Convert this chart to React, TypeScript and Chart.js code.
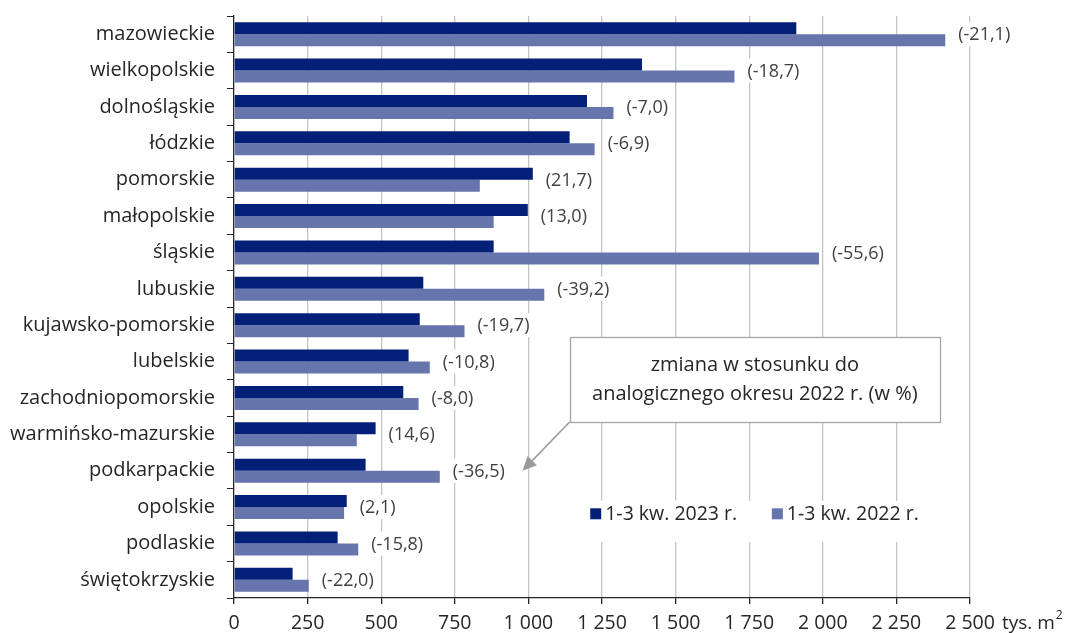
import { useEffect, useRef } from 'react';
import { Chart, registerables } from 'chart.js';

Chart.register(...registerables);

// Województwa, usable floor area of completed buildings (tys. m²)
const regions = [
  'mazowieckie',
  'wielkopolskie',
  'dolnośląskie',
  'łódzkie',
  'pomorskie',
  'małopolskie',
  'śląskie',
  'lubuskie',
  'kujawsko-pomorskie',
  'lubelskie',
  'zachodniopomorskie',
  'warmińsko-mazurskie',
  'podkarpackie',
  'opolskie',
  'podlaskie',
  'świętokrzyskie',
];

const area2023 = [1910, 1386, 1199, 1140, 1015, 998, 882, 643, 631, 593, 575, 481, 447, 383, 352, 199];
const area2022 = [2416, 1700, 1289, 1225, 835, 882, 1987, 1054, 783, 665, 627, 417, 699, 374, 422, 254];

// Change vs. the same period of 2022, in %
const changePct = [-21.1, -18.7, -7.0, -6.9, 21.7, 13.0, -55.6, -39.2, -19.7, -10.8, -8.0, 14.6, -36.5, 2.1, -15.8, -22.0];

const seriesLabels = ['1-3 kw. 2023 r.', '1-3 kw. 2022 r.'];
const axisMax = 2500;
const axisStep = 250;
const noteLines = ['zmiana w stosunku do', 'analogicznego okresu 2022 r. (w %)'];

const DARK = '#041f78';
const LIGHT = '#6676ad';
const FONT = '"Open Sans", "Noto Sans", sans-serif';
const TEXT = '#262626';

const fmtThousands = (v: number) => String(v).replace(/\B(?=(\d{3})+(?!\d))/g, ' ');
const fmtPct = (v: number) => '(' + v.toFixed(1).replace('.', ',') + ')';

const overlayPlugin = {
  id: 'overlay',
  afterDraw(chart: any) {
    const { ctx, chartArea } = chart;
    const xs = chart.scales.x;
    const ys = chart.scales.y;
    ctx.save();

    // Percentage change labels beside the longer bar of each region
    ctx.font = `18px ${FONT}`;
    ctx.textBaseline = 'middle';
    ctx.textAlign = 'left';
    regions.forEach((_, i) => {
      const end = Math.max(xs.getPixelForValue(area2023[i]), xs.getPixelForValue(area2022[i]));
      const x = end + 13;
      const y = ys.getPixelForValue(i);
      const txt = fmtPct(changePct[i]);
      const w = ctx.measureText(txt).width;
      ctx.fillStyle = '#ffffff';
      ctx.fillRect(x - 2, y - 12, w + 4, 24);
      ctx.fillStyle = '#404040';
      ctx.fillText(txt, x, y + 1);
    });

    // Unit label after the last x tick
    ctx.font = `19px ${FONT}`;
    ctx.fillStyle = TEXT;
    ctx.textAlign = 'left';
    ctx.textBaseline = 'middle';
    const unitX = xs.getPixelForValue(axisMax) + 32;
    const unitY = chartArea.bottom + 26;
    ctx.fillText('tys. m', unitX, unitY);
    const mW = ctx.measureText('tys. m').width;
    ctx.font = `12px ${FONT}`;
    ctx.fillText('2', unitX + mW + 1, unitY - 8);

    // Legend inside the plot
    const lgLeft = xs.getPixelForValue(1190);
    const lgRight = xs.getPixelForValue(2350);
    const lgTop = chartArea.top + (chartArea.bottom - chartArea.top) * 0.833;
    const lgH = 41;
    ctx.fillStyle = '#ffffff';
    ctx.fillRect(lgLeft, lgTop, lgRight - lgLeft, lgH);
    ctx.font = `19.5px ${FONT}`;
    ctx.textBaseline = 'middle';
    const lgY = lgTop + lgH / 2 - 8;
    const items = [
      { color: DARK, text: seriesLabels[0], x: xs.getPixelForValue(1210) },
      { color: LIGHT, text: seriesLabels[1], x: xs.getPixelForValue(1827) },
    ];
    items.forEach((it) => {
      ctx.fillStyle = it.color;
      ctx.fillRect(it.x, lgY - 5, 11, 11);
      ctx.fillStyle = TEXT;
      ctx.fillText(it.text, it.x + 15, lgY + 1);
    });

    // Note box with an arrow pointing to a change label
    const bx = xs.getPixelForValue(1140);
    const bx2 = xs.getPixelForValue(2398);
    const by = ys.getPixelForValue(8.32);
    const by2 = ys.getPixelForValue(10.66);
    ctx.fillStyle = '#ffffff';
    ctx.fillRect(bx, by, bx2 - bx, by2 - by);
    ctx.strokeStyle = '#a6a6a6';
    ctx.lineWidth = 1.3;
    ctx.strokeRect(Math.round(bx) + 0.5, Math.round(by) + 0.5, Math.round(bx2 - bx), Math.round(by2 - by));
    ctx.fillStyle = TEXT;
    ctx.textAlign = 'center';
    ctx.font = `20px ${FONT}`;
    const cx = (bx + bx2) / 2;
    ctx.fillText(noteLines[0], cx, by + 28);
    ctx.fillText(noteLines[1], cx, by + 57);

    // Arrow
    const tipX = xs.getPixelForValue(980);
    const tipY = ys.getPixelForValue(12.0);
    const sx = bx;
    const sy = by2;
    const ang = Math.atan2(tipY - sy, tipX - sx);
    const headLen = 14;
    const headW = 6.5;
    const baseX = tipX - headLen * Math.cos(ang);
    const baseY = tipY - headLen * Math.sin(ang);
    ctx.strokeStyle = '#9a9a9a';
    ctx.lineWidth = 1.5;
    ctx.beginPath();
    ctx.moveTo(sx, sy);
    ctx.lineTo(baseX, baseY);
    ctx.stroke();
    ctx.fillStyle = '#9a9a9a';
    ctx.beginPath();
    ctx.moveTo(tipX, tipY);
    ctx.lineTo(baseX + headW * Math.sin(ang), baseY - headW * Math.cos(ang));
    ctx.lineTo(baseX - headW * Math.sin(ang), baseY + headW * Math.cos(ang));
    ctx.closePath();
    ctx.fill();

    ctx.restore();
  },
};

export default function App() {
  const canvasRef = useRef<HTMLCanvasElement | null>(null);

  useEffect(() => {
    const canvas = canvasRef.current;
    if (!canvas) return;
    const chart = new Chart(canvas, {
      type: 'bar',
      data: {
        labels: regions,
        datasets: [
          {
            label: seriesLabels[0],
            data: area2023,
            backgroundColor: DARK,
            borderWidth: 0,
            categoryPercentage: 0.66,
            barPercentage: 1.0,
          },
          {
            label: seriesLabels[1],
            data: area2022,
            backgroundColor: LIGHT,
            borderWidth: 0,
            categoryPercentage: 0.66,
            barPercentage: 1.0,
          },
        ],
      },
      options: {
        indexAxis: 'y',
        responsive: false,
        animation: false,
        devicePixelRatio: 1,
        layout: { padding: { top: 16, right: 97, bottom: 0, left: 0 } },
        plugins: {
          legend: { display: false },
          tooltip: { enabled: false },
        },
        scales: {
          x: {
            type: 'linear',
            min: 0,
            max: axisMax,
            afterFit: (scale: any) => {
              scale.height = 35;
            },
            ticks: {
              stepSize: axisStep,
              color: TEXT,
              font: { family: FONT, size: 19.5 },
              padding: 8,
              maxRotation: 0,
              callback: (v: any) => fmtThousands(Number(v)),
            },
            grid: {
              color: (c: any) => (c.tick && c.tick.value === 0 ? 'rgba(0,0,0,0)' : '#c4c4c4'),
              lineWidth: 1.3,
              tickColor: TEXT,
              tickLength: 6,
            },
            border: { display: true, color: TEXT, width: 1.3 },
          },
          y: {
            type: 'category',
            afterFit: (scale: any) => {
              scale.width = 234;
              scale.paddingTop = 0;
              scale.paddingBottom = 0;
            },
            ticks: {
              color: TEXT,
              font: { family: FONT, size: 20 },
              padding: 12,
              autoSkip: false,
            },
            grid: {
              drawOnChartArea: false,
              drawTicks: true,
              tickLength: 7,
              tickColor: TEXT,
              offset: true,
            },
            border: { display: true, color: TEXT, width: 1.3 },
          },
        },
      },
      plugins: [overlayPlugin],
    });
    return () => chart.destroy();
  }, []);

  return (
    <div style={{ position: 'absolute', left: 0, top: 0, width: 1067, height: 633, background: '#ffffff' }}>
      <canvas ref={canvasRef} width={1067} height={633} style={{ display: 'block' }} />
    </div>
  );
}
